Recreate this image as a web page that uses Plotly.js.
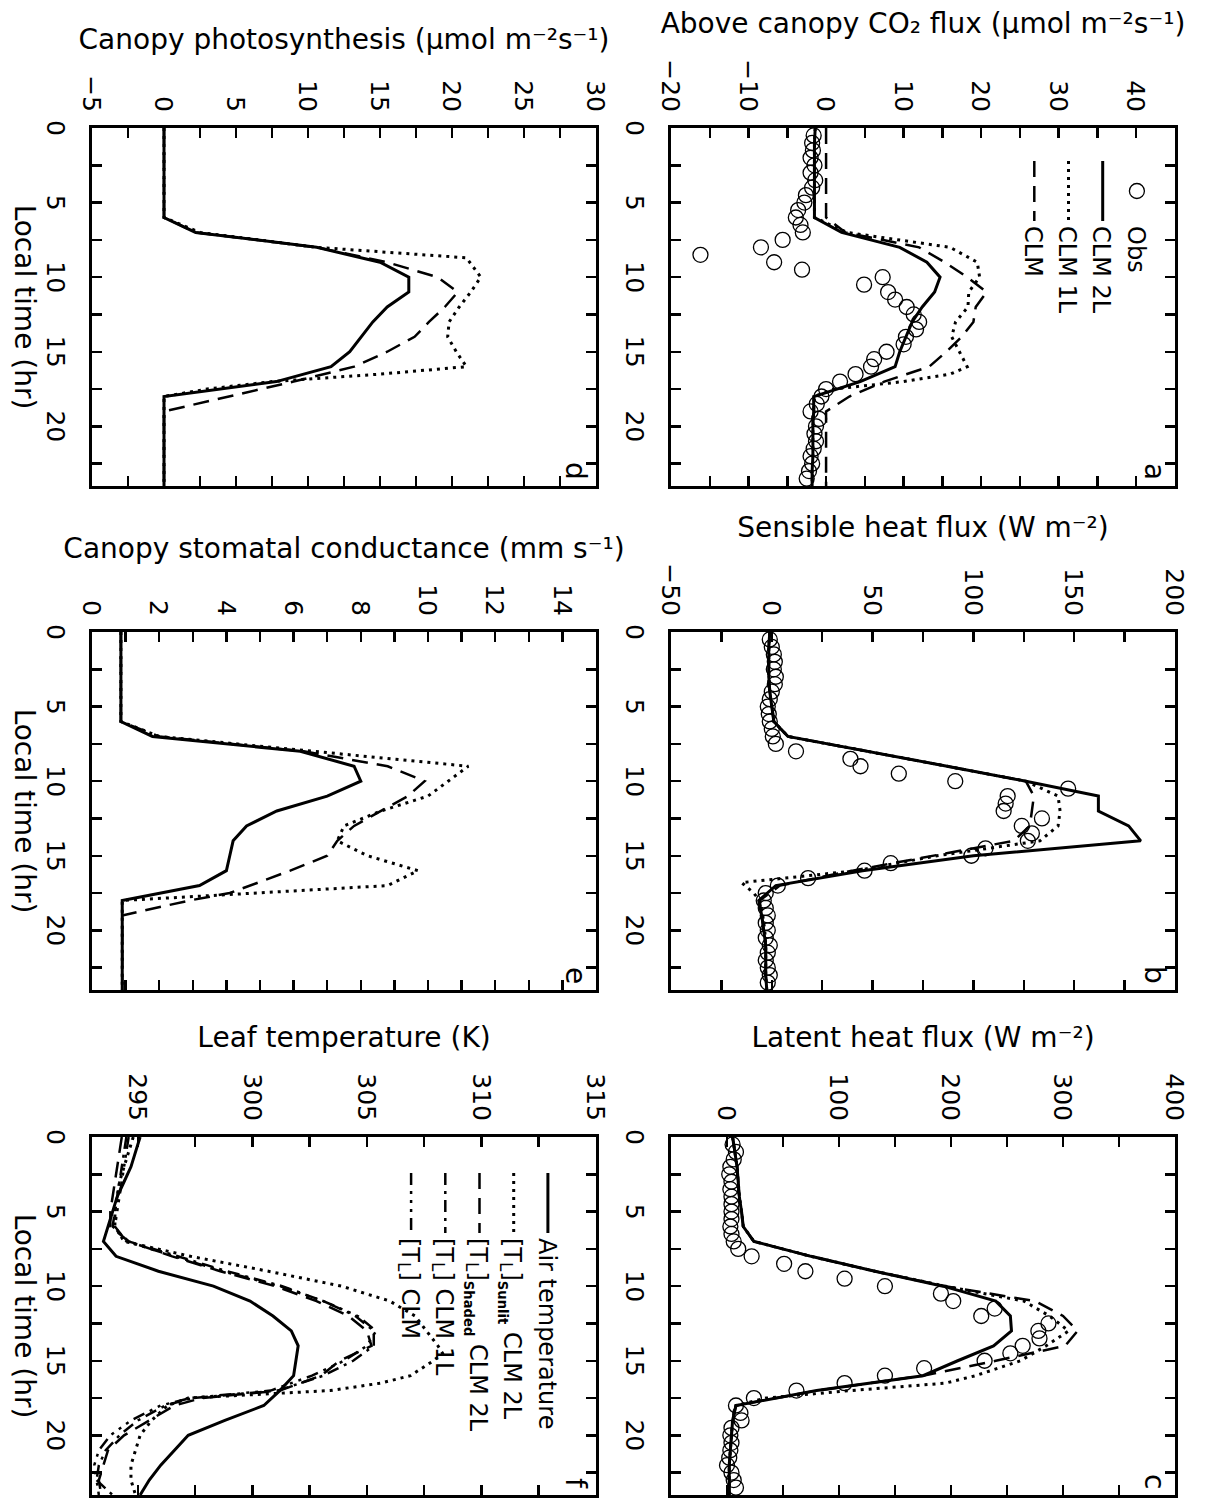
<!DOCTYPE html>
<html><head><meta charset="utf-8">
<script src="https://cdn.plot.ly/plotly-3.0.1.min.js"></script>
<style>
html,body{margin:0;padding:0;overflow:hidden;background:#fff;width:1209px;height:1500px;}
#chart{position:absolute;left:0;top:0;width:1500px;height:1209px;transform-origin:0 0;}
</style></head><body><div id="chart"></div><script>
// ---------- data ----------
const tHour = [0,1,2,3,4,5,6,7,8,9,10,11,12,13,14,15,16,17,18,19,20,21,22,23,24];
const tObs = [0.5,1,1.5,2,2.5,3,3.5,4,4.5,5,5.5,6,6.5,7,7.5,8,8.5,9,9.5,10,10.5,11,11.5,12,12.5,13,13.5,14,14.5,15,15.5,16,16.5,17,17.5,18,18.5,19,19.5,20,20.5,21,21.5,22,22.5,23,23.5];

// (a) Above canopy CO2 flux
const aObs = [-1.6,-1.8,-1.7,-2.0,-1.5,-2.0,-1.4,-1.8,-2.6,-2.8,-3.6,-3.9,-3.3,-3.0,-5.6,-8.4,-16.2,-6.7,-3.1,7.3,4.9,8.0,8.9,10.4,11.3,12.0,11.6,10.3,10.0,7.8,6.2,5.8,3.8,1.8,0.0,-0.6,-1.2,-2.0,-0.9,-1.3,-1.5,-1.3,-1.6,-2.0,-1.8,-2.2,-2.5];
const aCLM2L = [-1.4,-1.5,-1.5,-1.5,-1.5,-1.5,-1.5,2.0,9.5,13.0,14.7,14.0,12.4,11.1,10.3,9.5,8.9,4.4,-1.6,-1.6,-1.7,-1.7,-1.7,-1.8,-1.8];
const aT1L = [0,1,2,3,4,5,6,7,8,9,10,11,12,13,14,15,16,16.5,17,17.5,18,19,20,21,22,23,24];
const aCLM1L = [-1.4,-1.5,-1.5,-1.5,-1.5,-1.5,-1.5,2.7,16,19.5,19.8,18.4,18.3,16.7,16.2,17.2,18.2,16.0,10,1.0,-1.5,-1.6,-1.7,-1.7,-1.7,-1.8,-1.8];
const aCLM = [0,0,0,0,0,0,0,2.5,12,15.3,18.2,20.7,19.3,19.0,17.5,15.5,13.3,7.5,3.0,0,0,0,0,0,0];

// (b) Sensible heat flux
const bObs = [-1,0,1,1.5,1,2,1.5,0,-1,-2,-1.5,-1,0,0.5,2,12,39,44,63,91,147,117,116,115,134,124,129,127,106,99,59,46,18,3,-3,-4,-3,-2,-3,-2,-3,-1,-2,-3,-2,-1,-2];
const bCLM2L = [-1,-1.5,-1.5,-1.5,-1,0,1,8,48,87,126,162,162,177,183,100,45,2,-6.5,-5,-4,-3,-3,-3,-2.5];
const bT1L = [0,1,2,3,4,5,6,7,8,9,10,11,12,13,14,15,16,16.8,17.5,18,19,20,21,22,23,24];
const bCLM1L = [-1,-1.5,-1.5,-1.5,-1,0,1,8,48,87,126,142,143,142,133,82,42,-15,-9,-6,-4.5,-3.5,-3,-3,-3,-2.5];
const bCLM = [-1,-1.5,-1.5,-1.5,-1,0,1,8,48,87,126,130,129,128,120,80,40,4,-6,-5,-4,-3,-3,-3,-2.5];

// (c) Latent heat flux
const cObs = [5,8,6,3,2,4,3,4,4,4,4,3,4,6,10,22,51,70,105,141,191,202,239,227,287,278,279,264,253,230,176,141,105,62,24,8,12,13,4,3,4,3,2,0,4,6,8];
const cCLM2L = [5,7,9,10,11,13,14.5,24,75,132,193,240,253,254,238,206,175,80,8,5,4,3,2,2,2];
const cT1L = [0,1,2,3,4,5,6,7,8,9,10,11,12,13,14,15,16,16.5,17,17.5,18,19,20,21,22,23,24];
const cCLM1L = [5,7,9,10,11,13,14.5,24,75,132,195,265,288,305,285,262,222,195,110,35,8,5,4,3,2,2,2];
const cCLM = [5,7,9,10,11,13,14.5,24,75,132,195,275,300,313,302,240,175,80,8,5,4,3,2,2,2];

// (d) Canopy photosynthesis
const dCLM2L = [0,0,0,0,0,0,0,2.2,10.6,15,17,17,15.5,14.5,13.7,12.9,11.6,7.8,0,0,0,0,0,0,0];
const dT1L = [0,1,2,3,4,5,6,7,8,8.7,10,11,12,13,14,15,16,16.5,17,17.5,18,19,20,21,22,23,24];
const dCLM1L = [0,0,0,0,0,0,0,2.5,10.6,21,22,21.3,20.5,19.8,19.7,20.3,21,15,7.5,3,0,0,0,0,0,0,0];
const dCLM = [0,0,0,0,0,0,0,2.2,10.6,15.5,19,20.4,19.5,18.4,17.4,15.5,13.2,9.0,4.5,0,0,0,0,0,0];

// (e) Canopy stomatal conductance
const eCLM2L = [0.86,0.86,0.86,0.86,0.86,0.86,0.86,1.8,6.2,7.8,8.0,7.0,5.5,4.6,4.2,4.1,4.0,3.2,0.9,0.9,0.9,0.9,0.9,0.9,0.9];
const eT1L = [0,1,2,3,4,5,6,7,8,9,10,11,12,13,14,15,16,17,17.6,18,19,20,21,22,23,24];
const eCLM1L = [0.86,0.86,0.86,0.86,0.86,0.86,0.86,2.0,6.5,11.2,10.6,10.0,8.6,7.5,7.3,8.2,9.7,8.8,4.1,0.9,0.9,0.9,0.9,0.9,0.9,0.9];
const eTCLM = [0,1,2,3,4,5,6,7,8,9,10,11,12,13,14,15,16,17,17.5,18,19,20,21,22,23,24];
const eCLM = [0.86,0.86,0.86,0.86,0.86,0.86,0.86,2.0,6.3,8.8,9.9,9.4,8.6,7.8,7.3,7.0,5.9,4.7,4.1,2.9,0.9,0.9,0.9,0.9,0.9,0.9];

// (f) Leaf temperature
const fAir = [295.1,294.9,294.7,294.4,294.1,293.9,293.7,293.5,294.05,295.9,298.3,299.9,300.9,301.7,302.0,301.9,301.8,301.2,300.5,298.8,297.2,296.6,296.0,295.5,295.1];
const fTSun = [0,1,2,3,4,5,6,7,8,9,10,11,12,13,14,14.5,15,16,16.5,17,17.5,18,19,20,21,22,23,24];
const fSunlit = [294.8,294.6,294.4,294.2,294.1,294.0,294.0,294.4,297.3,300.7,303.9,306.0,307.1,307.6,308.1,308.3,307.9,306.9,305.6,303.4,297.2,296.3,295.6,295.1,294.9,294.7,294.7,294.9];
const fTLeaf = [0,1,2,3,4,5,6,7,8,9,10,11,12,13,14,15,16,17,17.5,18,19,20,21,22,23,24];
const fShaded = [294.3,294.2,294.1,294.0,293.9,293.8,293.8,294.6,296.5,298.6,301.0,302.8,304.2,305.0,305.2,303.8,303.0,301.2,297.8,296.6,295.5,294.4,293.7,293.5,293.3,293.4];
const fCLM1L = [294.5,294.4,294.3,294.2,294.1,294.0,293.9,294.6,296.8,298.9,301.3,303.1,304.5,305.3,305.3,304.4,303.1,301.1,297.4,296.2,295.0,294.2,293.6,293.3,293.2,293.3];
const fCLM = [294.6,294.5,294.4,294.3,294.2,294.1,294.0,294.5,296.6,298.7,301.2,303.1,304.6,305.4,305.0,304.0,302.6,300.8,297.3,296.0,294.7,293.8,293.3,293.1,293.2,293.9];

// ---------- style ----------
const F = 'DejaVu Sans';
const W = 1500, H = 1209;
const DOT = '3px,5px', DASH = '16px,9px', DASHDOT = '12px,6px,3px,6px', DASH3DOT = '12px,6px,3px,6px,3px,6px,3px,6px';
const SUBL = '<span style="font-size:70%;baseline-shift:-0.25em">L</span>';
function subTxt(s) { return '<span style="font-size:55%;baseline-shift:-0.45em;font-weight:bold">' + s + '</span>'; }

function ln(x, y, n, dash, width, name, legend, show) {
  return {type:'scatter', mode:'lines', x:x, y:y, xaxis:'x'+(n>1?n:''), yaxis:'y'+(n>1?n:''),
    line:{color:'#000', width:width, dash:dash}, name:name, legend:legend, showlegend:show, hoverinfo:'skip'};
}
function ob(x, y, n, show) {
  return {type:'scatter', mode:'markers', x:x, y:y, xaxis:'x'+(n>1?n:''), yaxis:'y'+(n>1?n:''),
    marker:{symbol:'circle-open', size:15, color:'#000', line:{width:1.3, color:'#000'}},
    name:'Obs', legend:'legend', showlegend:show, hoverinfo:'skip'};
}

const traces = [
  ob(tObs, aObs, 1, true),
  ln(tHour, aCLM2L, 1, 'solid', 3, 'CLM 2L', 'legend', true),
  ln(aT1L, aCLM1L, 1, DOT, 3, 'CLM 1L', 'legend', true),
  ln(tHour, aCLM, 1, DASH, 2.5, 'CLM', 'legend', true),

  ob(tObs, bObs, 2, false),
  ln(tHour, bCLM2L, 2, 'solid', 3, 'CLM 2L', 'legend', false),
  ln(bT1L, bCLM1L, 2, DOT, 3, 'CLM 1L', 'legend', false),
  ln(tHour, bCLM, 2, DASH, 2.5, 'CLM', 'legend', false),

  ob(tObs, cObs, 3, false),
  ln(tHour, cCLM2L, 3, 'solid', 3, 'CLM 2L', 'legend', false),
  ln(cT1L, cCLM1L, 3, DOT, 3, 'CLM 1L', 'legend', false),
  ln(tHour, cCLM, 3, DASH, 2.5, 'CLM', 'legend', false),

  ln(tHour, dCLM2L, 4, 'solid', 3, 'CLM 2L', 'legend', false),
  ln(dT1L, dCLM1L, 4, DOT, 3, 'CLM 1L', 'legend', false),
  ln(tHour, dCLM, 4, DASH, 2.5, 'CLM', 'legend', false),

  ln(tHour, eCLM2L, 5, 'solid', 3, 'CLM 2L', 'legend', false),
  ln(eT1L, eCLM1L, 5, DOT, 3, 'CLM 1L', 'legend', false),
  ln(eTCLM, eCLM, 5, DASH, 2.5, 'CLM', 'legend', false),

  ln(tHour, fAir, 6, 'solid', 3, 'Air temperature', 'legend2', true),
  ln(fTSun, fSunlit, 6, DOT, 3, '[T' + SUBL + ']' + subTxt('Sunlit') + ' CLM 2L', 'legend2', true),
  ln(fTLeaf, fShaded, 6, DASH, 2.5, '[T' + SUBL + ']' + subTxt('Shaded') + ' CLM 2L', 'legend2', true),
  ln(fTLeaf, fCLM1L, 6, DASHDOT, 2.5, '[T' + SUBL + '] CLM 1L', 'legend2', true),
  ln(fTLeaf, fCLM, 6, DASH3DOT, 2.5, '[T' + SUBL + '] CLM', 'legend2', true)
];

const colPx = [[128,486],[632,990],[1137,1495]];
const rowPx = [[34,538],[613,1117]];
const yTitles = [
  'Above canopy CO₂ flux (μmol m⁻²s⁻¹)',
  'Sensible heat flux (W m⁻²)',
  'Latent heat flux (W m⁻²)',
  'Canopy photosynthesis (μmol m⁻²s⁻¹)',
  'Canopy stomatal conductance (mm s⁻¹)',
  'Leaf temperature (K)'
];
const yRanges = [[-20,45],[-50,200],[-50,400],[-5,30],[0,15],[293,315]];
const yDtick = [10,50,100,5,2,5];
const yMinor = [5,25,50,2.5,1,2.5];
const letters = ['a','b','c','d','e','f'];

const base = {showline:true, linewidth:3, linecolor:'#000', mirror:'ticks', ticks:'inside', ticklen:10,
  tickwidth:2.5, tickcolor:'#000', showgrid:false, zeroline:false, automargin:false, fixedrange:true,
  tickfont:{family:F, size:25, color:'#000'}};

const layout = {width:W, height:H, margin:{l:0,r:0,t:0,b:0}, paper_bgcolor:'#fff', plot_bgcolor:'#fff',
  font:{family:F, color:'#000'}, showlegend:true,
  legend:{x:156/W, y:1-50/H, xanchor:'left', yanchor:'top', bgcolor:'rgba(0,0,0,0)', borderwidth:0,
    font:{family:F, size:24, color:'#000'}, tracegroupgap:0, itemwidth:60},
  legend2:{x:1168/W, y:1-639/H, xanchor:'left', yanchor:'top', bgcolor:'rgba(0,0,0,0)', borderwidth:0,
    font:{family:F, size:24, color:'#000'}, tracegroupgap:0, itemwidth:60},
  annotations:[]};

for (let i = 0; i < 6; i++) {
  const n = i + 1, sfx = n > 1 ? n : '';
  const c = colPx[i % 3], r = rowPx[Math.floor(i / 3)];
  const xa = Object.assign({}, base, {
    domain:[c[0]/W, c[1]/W], anchor:'y' + sfx, range:[0,24], tick0:0, dtick:5,
    minor:{dtick:2.5, ticks:'inside', ticklen:10, tickwidth:2.5, tickcolor:'#000'},
    ticklabelstandoff:12
  });
  if (i >= 3) xa.title = {text:'Local time (hr)', font:{family:F, size:28, color:'#000'}, standoff:5};
  layout['xaxis' + sfx] = xa;
  layout['yaxis' + sfx] = Object.assign({}, base, {
    domain:[1 - r[1]/H, 1 - r[0]/H], anchor:'x' + sfx, range:yRanges[i], tick0:0, dtick:yDtick[i],
    minor:{dtick:yMinor[i], ticks:'inside', ticklen:10, tickwidth:2.5, tickcolor:'#000'},
    ticklabelstandoff:8,
    title:{text:yTitles[i], font:{family:F, size:28, color:'#000'}, standoff:18}
  });
  layout.annotations.push({text:letters[i], xref:'x' + sfx + ' domain', yref:'y' + sfx + ' domain',
    x:0.988, y:0.997, xanchor:'right', yanchor:'top', showarrow:false,
    font:{family:F, size:28, color:'#000'}});
}

const gd = document.getElementById('chart');
Plotly.newPlot(gd, traces, layout, {staticPlot:true, displayModeBar:false}).then(function(){
  gd.style.transform = 'translate(1209px,0px) rotate(90deg)';
});
</script></body></html>
